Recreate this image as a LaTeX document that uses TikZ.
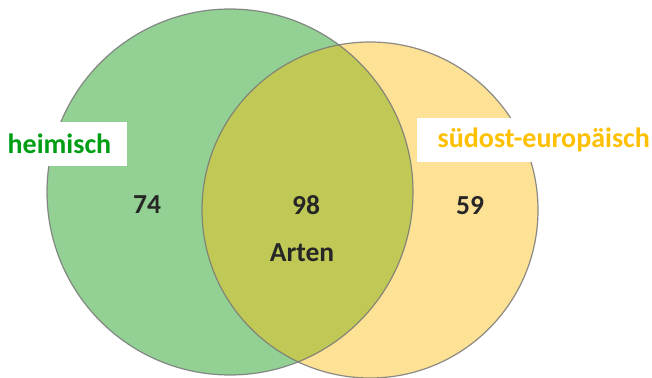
\documentclass[tikz,border=0pt]{standalone}
\usepackage{fontspec}
\setmainfont{Carlito}
\definecolor{gfill}{RGB}{146,209,147}
\definecolor{yfill}{RGB}{253,226,150}
\definecolor{ofill}{RGB}{192,201,86}
\definecolor{ltxt}{RGB}{0,158,20}
\definecolor{otxt}{RGB}{255,192,0}
\definecolor{ntxt}{RGB}{38,38,38}
\definecolor{edge}{RGB}{120,120,120}
\begin{document}
\begin{tikzpicture}[x=1pt,y=-1pt,
  numtxt/.style={text=ntxt,font=\fontsize{27.5}{30}\selectfont\bfseries,inner sep=0pt},
  lbl/.style={fill=white,font=\fontsize{28}{30}\selectfont\bfseries,inner sep=0pt,anchor=west}]
\useasboundingbox (0,0) rectangle (652,377);
\fill[white] (0,0) rectangle (652,377);
\coordinate (cL) at (230,192);
\coordinate (cR) at (370,210);
\fill[gfill] (cL) circle[radius=183pt];
\fill[yfill] (cR) circle[radius=168pt];
\begin{scope}
  \clip (cL) circle[radius=183pt];
  \fill[ofill] (cR) circle[radius=168pt];
\end{scope}
\draw[edge,line width=1.2pt,opacity=0.85] (cL) circle[radius=183pt];
\draw[edge,line width=1.2pt,opacity=0.85] (cR) circle[radius=168pt];
\node[lbl,text=ltxt,minimum width=127pt,minimum height=44pt,text width=127pt,align=left] (hl) at (0,144) {\hspace*{7.5pt}heimisch};
\node[lbl,text=otxt,minimum width=235pt,minimum height=44pt,text width=235pt,align=left] (sl) at (417,140) {\hspace*{20.5pt}südost-europäisch};
\node[numtxt] (n74) at (147,205) {74};
\node[numtxt] (n98) at (306,205) {98};
\node[numtxt] (art) at (302,253) {Arten};
\node[numtxt] (n59) at (470,206) {59};
\end{tikzpicture}
\end{document}
